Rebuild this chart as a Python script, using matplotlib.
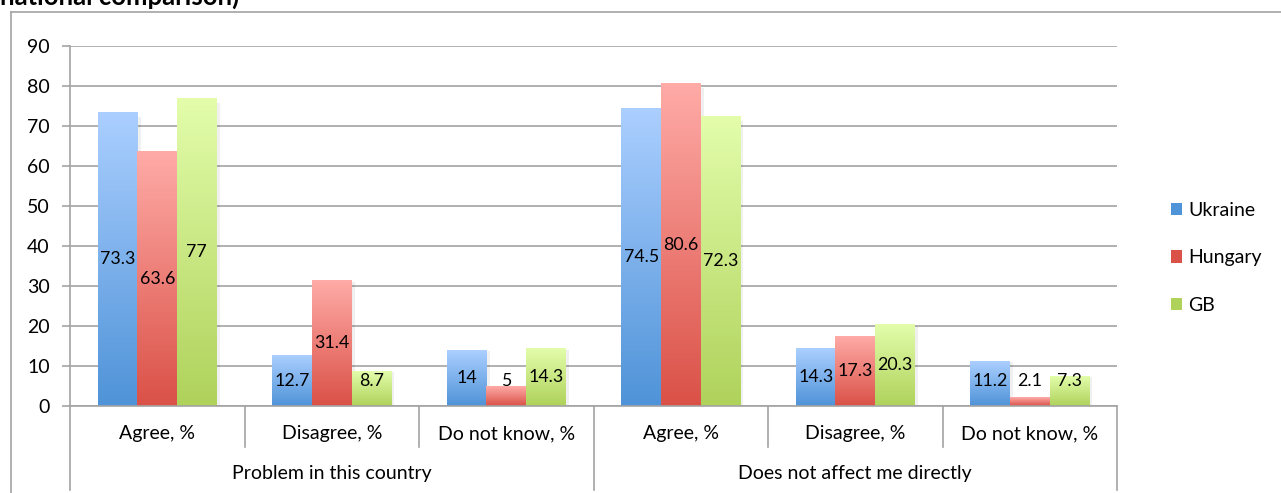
import numpy as np
import matplotlib

matplotlib.use("Agg")
import matplotlib.pyplot as plt
from matplotlib.colors import to_rgb
from matplotlib.lines import Line2D
from matplotlib.patches import Patch

plt.rcParams["font.family"] = ["Lato", "DejaVu Sans"]

groups = ["Problem in this country", "Does not affect me directly"]
answers = ["Agree, %", "Disagree, %", "Do not know, %"]
countries = ["Ukraine", "Hungary", "GB"]
ukraine = [73.3, 12.7, 14, 74.5, 14.3, 11.2]
hungary = [63.6, 31.4, 5, 80.6, 17.3, 2.1]
gb = [77, 8.7, 14.3, 72.3, 20.3, 7.3]
yticks = list(range(0, 91, 10))

# (top, bottom) gradient colours per series
shades = {
    "Ukraine": ("#abcfff", "#4f93d8"),
    "Hungary": ("#ffaba7", "#da5147"),
    "GB": ("#e3fdab", "#afd25b"),
}
grey = "#a3a3a3"
fs = 14

W, H = 1281, 493
fig = plt.figure(figsize=(W / 100, H / 100), dpi=100)
ax = fig.add_axes([70 / W, 1 - 406 / H, (1117 - 70) / W, 360 / H])

n_cat = len(ukraine)
x = np.arange(n_cat)
bw = 0.2264
ax.set_xlim(-0.5, n_cat - 0.5)
ax.set_ylim(0, 90)


def gradient_bar(x0, width, height, top, bottom):
    t = np.linspace(0, 1, 256)[:, None, None]
    c0 = np.array(to_rgb(bottom))
    c1 = np.array(to_rgb(top))
    img = c0 + (c1 - c0) * t
    # soft shadow on the right edge
    ax.add_patch(plt.Rectangle((x0 + width, 0), 0.018, height * 0.985,
                               color="#000000", alpha=0.06, lw=0, zorder=1.5))
    ax.imshow(img, extent=[x0, x0 + width, 0, height], origin="lower",
              aspect="auto", zorder=2, interpolation="bilinear")


for k, (name, vals) in enumerate(zip(countries, [ukraine, hungary, gb])):
    top, bottom = shades[name]
    for i, v in enumerate(vals):
        cx = x[i] + (k - 1) * bw
        gradient_bar(cx - bw / 2, bw, v, top, bottom)
        ax.text(cx, max(v / 2, 6.2), f"{v:g}", ha="center", va="center",
                fontsize=12.8, color="black", zorder=3)

ax.set_xlim(-0.5, n_cat - 0.5)
ax.set_ylim(0, 90)
ax.set_yticks(yticks)
ax.set_yticklabels([str(t) for t in yticks], fontsize=fs)
ax.tick_params(axis="y", length=6, width=1.2, color=grey, pad=8.5)
ax.set_xticks([])
ax.yaxis.grid(True, color=grey, lw=1.2)
ax.set_axisbelow(True)
for s in ["top", "right"]:
    ax.spines[s].set_visible(False)
for s in ["left", "bottom"]:
    ax.spines[s].set_color(grey)
    ax.spines[s].set_linewidth(1.2)

# two-level category axis below the plot
trans = ax.get_xaxis_transform()
px = 1 / 360  # one pixel in axes-y units
for b in np.arange(-0.5, n_cat, 1.0):
    outer = b in (-0.5, 2.5, n_cat - 0.5)
    depth = 84 if outer else 41
    ax.add_line(Line2D([b, b], [0, -depth * px], transform=trans, color=grey,
                       lw=1.2, clip_on=False))
for i, lab in enumerate(answers * len(groups)):
    ax.text(x[i], -28 * px, lab, transform=trans, ha="center", va="center",
            fontsize=fs)
for g, lab in enumerate(groups):
    ax.text(1 + 3 * g, -68 * px, lab, transform=trans, ha="center",
            va="center", fontsize=fs)

handles = [Patch(facecolor=shades[c][1], edgecolor="none") for c in countries]
fig.legend(handles, countries, loc="center left",
           bbox_to_anchor=(1153 / W, 1 - 258 / H), frameon=False,
           fontsize=fs, handlelength=0.6, handleheight=0.6,
           handletextpad=0.3, labelspacing=1.57)

# chart frame and clipped title
fig.add_artist(Line2D([11 / W, 11 / W], [0, 1 - 12 / H], color=grey, lw=1.2))
fig.add_artist(Line2D([11 / W, 1], [1 - 12 / H, 1 - 12 / H], color=grey,
                      lw=1.2))
fig.text(0.5 / W, 1 - 5 / H, "national comparison)", fontsize=18.5,
         fontweight="bold", ha="left", va="baseline")

fig.savefig("out.png", dpi=100, facecolor="white")
